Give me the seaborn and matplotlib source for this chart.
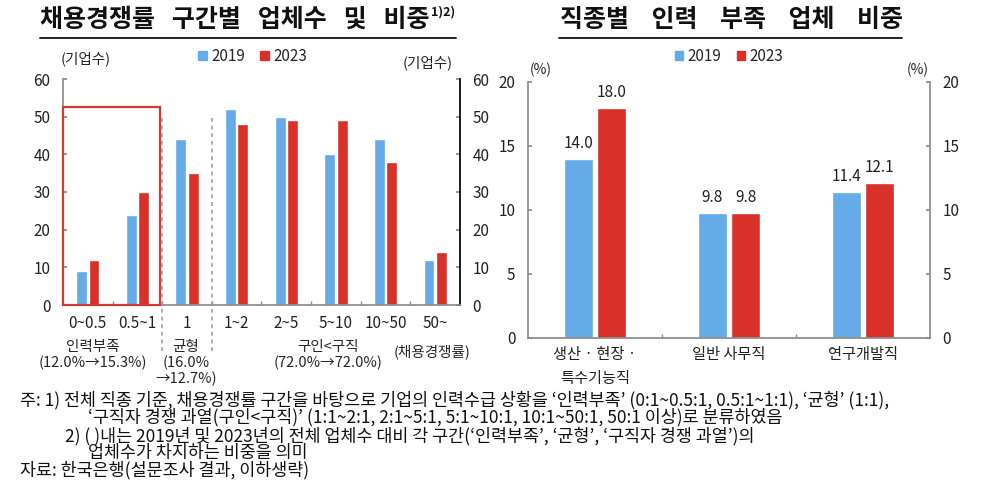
import matplotlib
matplotlib.use("Agg")
import matplotlib.pyplot as plt
import matplotlib.transforms as mtransforms
from matplotlib.patches import Rectangle, Patch
from matplotlib.lines import Line2D
import seaborn as sns
import pandas as pd
import numpy as np

# data
years = ["2019", "2023"]
bands = ["0~0.5", "0.5~1", "1", "1~2", "2~5", "5~10", "10~50", "50~"]
firms_2019 = [9, 24, 44, 52, 50, 40, 44, 12]
firms_2023 = [12, 30, 35, 48, 49, 49, 38, 14]

jobs = ["생산 · 현장 ·\n특수기능직", "일반 사무직", "연구개발직"]
short_2019 = [14.0, 9.8, 11.4]
short_2023 = [18.0, 9.8, 12.1]

blue = "#64ABE7"
red = "#D9302A"
grey = "#8c8c8c"

sns.set_theme(style="white")
plt.rcParams["font.family"] = ["Noto Sans CJK KR", "DejaVu Sans"]
plt.rcParams["axes.unicode_minus"] = False

W, H = 987, 491
fig = plt.figure(figsize=(W / 100, H / 100), dpi=100)


def fx(x):
    return x / W


def fy(y):
    return 1 - y / H


def long_df(cats, a, b, name):
    return pd.DataFrame({
        "cat": cats * 2,
        name: a + b,
        "year": [years[0]] * len(cats) + [years[1]] * len(cats),
    })


def style_axis(ax, right_color):
    for s in ["left", "bottom", "top"]:
        ax.spines[s].set_color(grey)
    ax.spines["top"].set_visible(False)
    ax.spines["right"].set_color(right_color)
    ax.set_xlabel("")
    ax.set_ylabel("")
    ax.tick_params(axis="y", which="major", direction="in", length=3,
                   left=True, right=True, labelleft=True, labelright=True,
                   color=grey, labelsize=11, labelcolor="#222222")
    ax.tick_params(axis="x", which="major", length=0, labelsize=11,
                   labelcolor="#222222")
    ax.tick_params(axis="x", which="minor", direction="in", length=3,
                   bottom=True, color=grey)


# ---------- left chart ----------
ax1 = fig.add_axes([fx(63), fy(305), fx(460) - fx(63), fy(79) - fy(305)])
d1 = long_df(bands, firms_2019, firms_2023, "n")
sns.barplot(data=d1, x="cat", y="n", hue="year", palette=[blue, red],
            width=0.5, gap=0.12, legend=False, ax=ax1, saturation=1)
ax1.set_ylim(0, 60)
ax1.set_xlim(-0.5, len(bands) - 0.5)
ax1.set_yticks(np.arange(0, 61, 10))
ax1.set_xticks(range(len(bands)))
ax1.set_xticklabels(bands)
ax1.set_xticks(np.arange(0.5, len(bands) - 1, 1), minor=True)
style_axis(ax1, "black")
ax1.tick_params(axis="y", pad=9)
ax1.tick_params(axis="x", which="major", pad=7)

# highlight box and dashed separators
ax1.add_patch(Rectangle((-0.5, 0), 1.955, 52.6, fill=False, edgecolor="#D23B33",
                        lw=1.6, clip_on=False, zorder=5))
for xs in [1.5, 2.5]:
    ax1.plot([xs, xs], [-12.3, 50.5], ls=(0, (2.5, 2.5)), color="#999999",
             lw=1.1, clip_on=False, zorder=4)

tr1 = mtransforms.blended_transform_factory(ax1.transData, fig.transFigure)
grp_kw = dict(transform=tr1, ha="center", va="top", fontsize=10.5, linespacing=1.12)
ax1.text(0.1, fy(340), "인력부족\n(12.0%→15.3%)", **grp_kw)
ax1.text(1.98, fy(340), "균형\n(16.0%\n→12.7%)", **grp_kw)
ax1.text(4.85, fy(340), "구인<구직\n(72.0%→72.0%)", **grp_kw)
fig.text(fx(432), fy(352), "(채용경쟁률)", ha="center", va="center", fontsize=10.5)
fig.text(fx(86), fy(59), "(기업수)", ha="center", va="center", fontsize=10.5)
fig.text(fx(428), fy(63), "(기업수)", ha="center", va="center", fontsize=10.5)

handles = [Patch(color=blue, label=years[0]), Patch(color=red, label=years[1])]
ax1.legend(handles=handles, loc="center", bbox_to_anchor=(0.478, 1.1), ncol=2,
           frameon=False, handlelength=0.55, handleheight=0.55, handletextpad=0.3,
           columnspacing=1.0, fontsize=11)

# ---------- right chart ----------
ax2 = fig.add_axes([fx(528), fy(338), fx(930) - fx(528), fy(82) - fy(338)])
d2 = long_df(jobs, short_2019, short_2023, "pct")
sns.barplot(data=d2, x="cat", y="pct", hue="year", palette=[blue, red],
            width=0.5, gap=0.13, legend=False, ax=ax2, saturation=1)
ax2.set_ylim(0, 20)
ax2.set_xlim(-0.5, len(jobs) - 0.5)
ax2.set_yticks(np.arange(0, 21, 5))
ax2.set_xticks(range(len(jobs)))
ax2.set_xticklabels(jobs, fontsize=10.5, linespacing=1.5, va="top")
ax2.set_xticks(np.arange(0.5, len(jobs) - 1, 1), minor=True)
style_axis(ax2, grey)
ax2.tick_params(axis="y", pad=9)
ax2.tick_params(axis="x", which="major", pad=6)
for c in ax2.containers:
    ax2.bar_label(c, fmt="%.1f", padding=5, fontsize=11, color="#222222")
fig.text(fx(541), fy(70), "(%)", ha="center", va="center", fontsize=10)
fig.text(fx(918), fy(70), "(%)", ha="center", va="center", fontsize=10)
ax2.legend(handles=handles, loc="center", bbox_to_anchor=(0.5, 1.1), ncol=2,
           frameon=False, handlelength=0.55, handleheight=0.55, handletextpad=0.3,
           columnspacing=1.0, fontsize=11)

# ---------- titles ----------
t1 = fig.text(fx(40), fy(20), "채용경쟁률   구간별   업체수   및   비중", ha="left", va="center",
              fontsize=18, fontweight="bold", color="#111111")
t2 = fig.text(fx(731), fy(20), "직종별    인력    부족    업체    비중", ha="center", va="center",
              fontsize=18, fontweight="bold", color="#111111")
fig.canvas.draw()
bb1 = t1.get_window_extent()
sup = fig.text(bb1.x1 / W + 0.002, fy(12), "1)2)", ha="left", va="center",
               fontsize=9, fontweight="bold", color="#111111")
fig.canvas.draw()
bbs = sup.get_window_extent()
bb2 = t2.get_window_extent()
for x0, x1 in [(bb1.x0, bbs.x1), (bb2.x0, bb2.x1)]:
    fig.add_artist(Line2D([x0 / W, x1 / W], [fy(38), fy(38)], color="#111111", lw=1.3))

# ---------- notes ----------
notes = [
    (20, 400, "주: 1) 전체 직종 기준, 채용경쟁률 구간을 바탕으로 기업의 인력수급 상황을 ‘인력부족’ (0:1~0.5:1, 0.5:1~1:1), ‘균형’ (1:1),"),
    (88, 417, "‘구직자 경쟁 과열(구인<구직)’ (1:1~2:1, 2:1~5:1, 5:1~10:1, 10:1~50:1, 50:1 이상)로 분류하였음"),
    (65, 436, "2) ( )내는 2019년 및 2023년의 전체 업체수 대비 각 구간(‘인력부족’, ‘균형’, ‘구직자 경쟁 과열’)의"),
    (88, 453, "업체수가 차지하는 비중을 의미"),
    (20, 470, "자료: 한국은행(설문조사 결과, 이하생략)"),
]
for x, y, s in notes:
    fig.text(fx(x), fy(y), s, ha="left", va="center", fontsize=12.5, color="#111111")

fig.savefig("out.png", dpi=100)
